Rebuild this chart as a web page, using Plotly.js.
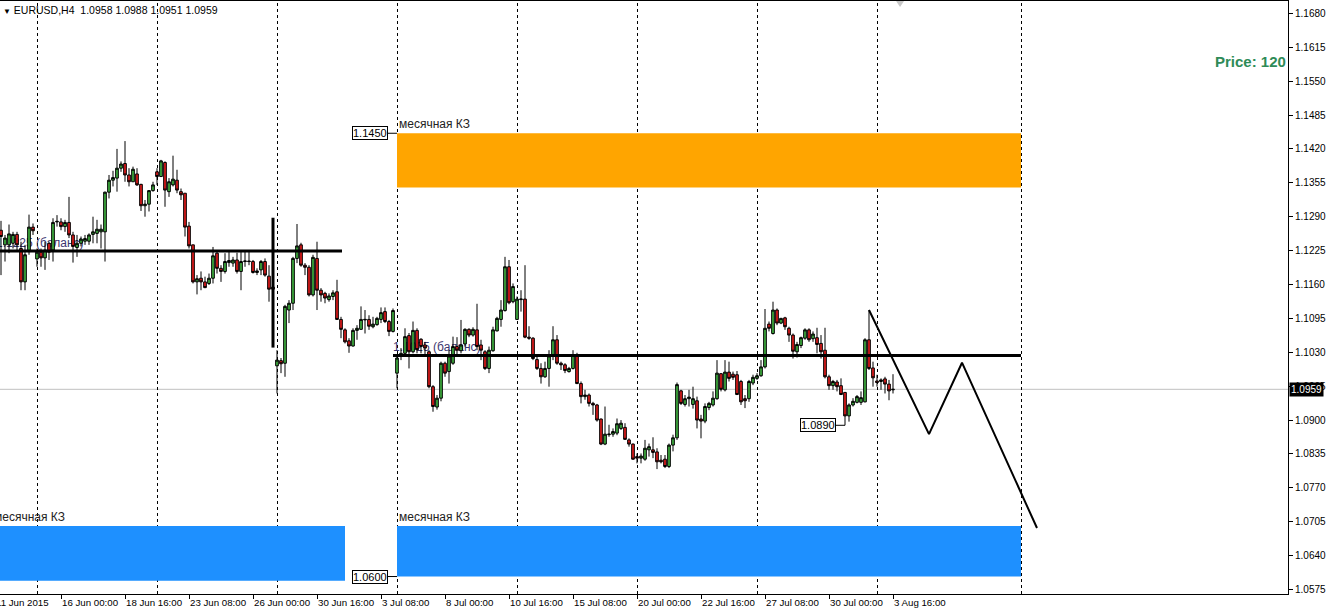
<!DOCTYPE html>
<html><head><meta charset="utf-8">
<script src="https://cdn.plot.ly/plotly-3.0.1.min.js"></script>
<style>html,body{margin:0;padding:0;background:#fff;}#chart{width:1330px;height:613px;}</style>
</head><body><div id="chart"></div>
<script>
// ---- data: EURUSD H4 candles (bar index 0..223) ----
const OPEN = [
1.1264,1.1236,1.1236,1.1239,1.1256,1.1229,1.1165,1.1223,1.1270,1.1209,
1.1222,1.1211,1.1239,1.1226,1.1280,1.1280,1.1271,1.1279,1.1255,1.1231,
1.1239,1.1243,1.1243,1.1256,1.1258,1.1261,1.1261,1.1337,1.1360,1.1364,
1.1383,1.1392,1.1370,1.1357,1.1372,1.1352,1.1311,1.1314,1.1340,1.1376,
1.1367,1.1394,1.1338,1.1351,1.1360,1.1338,1.1335,1.1272,1.1236,1.1165,
1.1172,1.1165,1.1162,1.1172,1.1220,1.1191,1.1185,1.1202,1.1201,1.1207,
1.1185,1.1204,1.1205,1.1204,1.1183,1.1188,1.1204,1.1176,1.1155,1.1004,
1.1014,1.1009,1.1111,1.1124,1.1210,1.1236,1.1197,1.1193,1.1140,1.1210,
1.1149,1.1143,1.1131,1.1137,1.1146,1.1093,1.1073,1.1052,1.1042,1.1072,
1.1074,1.1092,1.1093,1.1079,1.1083,1.1093,1.1108,1.1089,1.1070,1.0990,
1.1022,1.1028,1.1062,1.1031,1.1072,1.1055,1.1044,1.1031,1.0964,1.0925,
1.0942,1.1009,1.0993,1.1009,1.1041,1.1033,1.1046,1.1074,1.1063,1.1073,
1.1044,1.1031,1.0999,1.1033,1.1071,1.1093,1.1110,1.1194,1.1127,1.1093,
1.1131,1.1132,1.1059,1.1057,1.1016,1.0999,1.0983,1.0999,1.1022,1.1054,
1.1009,1.1006,1.0993,1.0999,1.1025,1.0970,1.0945,1.0948,1.0932,1.0929,
1.0902,1.0854,1.0872,1.0873,1.0875,1.0884,1.0886,1.0862,1.0854,1.0830,
1.0827,1.0825,1.0843,1.0843,1.0839,1.0823,1.0825,1.0811,1.0852,1.0866,
1.0956,1.0930,1.0941,1.0930,1.0937,1.0902,1.0898,1.0924,1.0929,1.0941,
1.0989,1.0958,1.0992,1.0988,1.0987,1.0974,1.0941,1.0941,1.0971,1.0980,
1.0985,1.1002,1.1084,1.1066,1.1111,1.1086,1.1096,1.1076,1.1063,1.1031,
1.1043,1.1057,1.1073,1.1056,1.1058,1.1047,1.1034,1.0983,1.0966,1.0973,
1.0966,1.0953,1.0908,1.0929,1.0934,1.0934,1.0935,1.1054,1.1000,1.0975,
1.0974,1.0979,1.0969,1.0958];
const HIGH = [
1.1282,1.1255,1.1275,1.1261,1.1261,1.1242,1.1236,1.1294,1.1277,1.1229,
1.1229,1.1242,1.1242,1.1287,1.1293,1.1287,1.1284,1.1328,1.1261,1.1255,
1.1252,1.1255,1.1258,1.1290,1.1284,1.1275,1.1338,1.1370,1.1378,1.1420,
1.1396,1.1435,1.1383,1.1386,1.1383,1.1353,1.1322,1.1341,1.1357,1.1383,
1.1399,1.1396,1.1364,1.1407,1.1380,1.1344,1.1335,1.1280,1.1236,1.1178,
1.1185,1.1175,1.1181,1.1232,1.1226,1.1197,1.1220,1.1223,1.1213,1.1221,
1.1223,1.1223,1.1223,1.1207,1.1191,1.1207,1.1210,1.1197,1.1170,1.1034,
1.1019,1.1121,1.1130,1.1213,1.1276,1.1240,1.1201,1.1197,1.1217,1.1242,
1.1153,1.1146,1.1143,1.1149,1.1169,1.1098,1.1076,1.1057,1.1076,1.1082,
1.1118,1.1111,1.1101,1.1098,1.1098,1.1116,1.1116,1.1092,1.1114,1.1022,
1.1038,1.1076,1.1067,1.1089,1.1076,1.1057,1.1050,1.1034,1.0967,1.0948,
1.1012,1.1012,1.1034,1.1060,1.1059,1.1092,1.1076,1.1076,1.1078,1.1123,
1.1054,1.1034,1.1041,1.1079,1.1098,1.1130,1.1213,1.1207,1.1162,1.1137,
1.1149,1.1197,1.1080,1.1059,1.1022,1.1009,1.1012,1.1034,1.1080,1.1063,
1.1012,1.1009,1.1002,1.1034,1.1029,1.0974,1.0958,1.0951,1.0935,1.0931,
1.0903,1.0926,1.0891,1.0884,1.0903,1.0900,1.0894,1.0865,1.0855,1.0836,
1.0836,1.0862,1.0855,1.0867,1.0846,1.0833,1.0833,1.0855,1.0872,1.0972,
1.0958,1.0948,1.0958,1.0964,1.0945,1.0910,1.0932,1.0935,1.0955,1.1015,
1.0990,1.1015,1.1012,1.0993,1.0994,1.0977,1.0948,1.0977,1.0987,1.0990,
1.1015,1.1113,1.1089,1.1127,1.1114,1.1096,1.1098,1.1079,1.1066,1.1050,
1.1060,1.1076,1.1076,1.1070,1.1077,1.1063,1.1077,1.0987,1.0977,1.0977,
1.0980,1.0954,1.0932,1.0942,1.0948,1.0955,1.1057,1.1111,1.1012,1.0987,
1.0980,1.0983,1.0977,1.0988];
const LOW = [
1.1178,1.1204,1.1220,1.1229,1.1226,1.1149,1.1149,1.1217,1.1255,1.1194,
1.1194,1.1188,1.1207,1.1204,1.1271,1.1264,1.1261,1.1249,1.1202,1.1213,
1.1233,1.1236,1.1236,1.1239,1.1239,1.1229,1.1204,1.1325,1.1348,1.1338,
1.1376,1.1357,1.1348,1.1357,1.1349,1.1301,1.1290,1.1300,1.1338,1.1351,
1.1367,1.1309,1.1328,1.1348,1.1335,1.1322,1.1252,1.1229,1.1162,1.1141,
1.1149,1.1153,1.1159,1.1162,1.1181,1.1165,1.1181,1.1194,1.1194,1.1181,
1.1149,1.1194,1.1197,1.1181,1.1178,1.1178,1.1175,1.1127,1.1140,1.0951,
1.0990,1.0983,1.1086,1.1111,1.1201,1.1194,1.1178,1.1137,1.1137,1.1111,
1.1127,1.1124,1.1127,1.1130,1.1092,1.1057,1.1047,1.1029,1.1041,1.1054,
1.1073,1.1066,1.1073,1.1076,1.1081,1.1086,1.1086,1.1061,1.1068,1.0961,
1.1015,1.1022,1.0999,1.1028,1.1028,1.1028,1.1025,1.0961,1.0916,1.0920,
1.0936,1.0983,1.0970,1.1006,1.1022,1.1028,1.1041,1.1059,1.1060,1.1034,
1.1015,1.0996,1.0990,1.1031,1.1070,1.1079,1.1108,1.1122,1.1124,1.1092,
1.1108,1.1057,1.1054,1.1015,1.0996,1.0970,1.0981,1.0964,1.1015,1.1006,
1.0996,1.0990,1.0991,1.0997,1.0969,1.0932,1.0939,1.0926,1.0910,1.0897,
1.0852,1.0852,1.0868,1.0868,1.0871,1.0881,1.0862,1.0849,1.0824,1.0817,
1.0817,1.0822,1.0830,1.0827,1.0806,1.0817,1.0808,1.0808,1.0840,1.0862,
1.0929,1.0926,1.0926,1.0922,1.0884,1.0865,1.0894,1.0919,1.0926,1.0939,
1.0955,1.0955,1.0974,1.0977,1.0948,1.0929,1.0923,1.0935,1.0967,1.0977,
1.0983,1.0999,1.1070,1.1064,1.1082,1.1084,1.1073,1.1050,1.1018,1.1020,
1.1038,1.1054,1.1050,1.1050,1.1028,1.1018,1.0980,1.0958,1.0958,1.0955,
1.0948,1.0890,1.0897,1.0926,1.0932,1.0929,1.0934,1.0996,1.0964,1.0964,
1.0958,1.0951,1.0938,1.0951];
const CLOSE = [
1.1252,1.1249,1.1257,1.1256,1.1236,1.1165,1.1217,1.1270,1.1263,1.1222,
1.1211,1.1226,1.1222,1.1279,1.1281,1.1271,1.1279,1.1255,1.1233,1.1239,
1.1247,1.1248,1.1255,1.1261,1.1266,1.1266,1.1337,1.1360,1.1365,1.1383,
1.1391,1.1370,1.1357,1.1381,1.1351,1.1311,1.1314,1.1340,1.1351,1.1367,
1.1397,1.1341,1.1357,1.1362,1.1341,1.1332,1.1270,1.1234,1.1165,1.1171,
1.1165,1.1154,1.1172,1.1215,1.1191,1.1185,1.1204,1.1206,1.1207,1.1185,
1.1204,1.1205,1.1204,1.1183,1.1186,1.1204,1.1178,1.1151,1.1151,1.1015,
1.1008,1.1118,1.1124,1.1210,1.1234,1.1197,1.1193,1.1140,1.1212,1.1149,
1.1140,1.1134,1.1138,1.1144,1.1093,1.1074,1.1050,1.1042,1.1072,1.1076,
1.1093,1.1093,1.1080,1.1084,1.1095,1.1106,1.1089,1.1070,1.1110,1.1019,
1.1028,1.1060,1.1031,1.1072,1.1035,1.1041,1.1038,1.0964,1.0926,1.0942,
1.1009,1.0990,1.1023,1.1041,1.1034,1.1044,1.1074,1.1063,1.1074,1.1041,
1.1034,1.0999,1.1034,1.1073,1.1095,1.1111,1.1194,1.1125,1.1156,1.1132,
1.1132,1.1059,1.1057,1.1018,1.0999,1.0983,1.0999,1.1023,1.1054,1.1009,
1.1006,1.0995,1.0999,1.1025,1.0970,1.0945,1.0948,1.0932,1.0929,1.0900,
1.0854,1.0873,1.0873,1.0878,1.0893,1.0894,1.0863,1.0854,1.0825,1.0827,
1.0831,1.0846,1.0849,1.0838,1.0820,1.0820,1.0811,1.0852,1.0866,1.0968,
1.0932,1.0941,1.0944,1.0941,1.0900,1.0898,1.0926,1.0932,1.0942,1.0990,
1.0959,1.0992,1.0980,1.0982,1.0949,1.0935,1.0937,1.0974,1.0982,1.0985,
1.1002,1.1076,1.1076,1.1111,1.1086,1.1095,1.1079,1.1063,1.1032,1.1045,
1.1058,1.1073,1.1054,1.1065,1.1045,1.1031,1.0983,1.0966,1.0974,1.0964,
1.0949,1.0908,1.0929,1.0936,1.0945,1.0943,1.1054,1.0999,1.0981,1.0972,
1.0977,1.0969,1.0956,1.0959];

// time axis labels (bar index -> label)
const TICK_BARS   = [-1, 15, 31, 47, 63, 79, 95, 111, 127, 143, 159, 175, 191, 207, 223];
const TICK_LABELS = ['11 Jun 2015','16 Jun 00:00','18 Jun 16:00','23 Jun 08:00','26 Jun 00:00',
  '30 Jun 16:00','3 Jul 08:00','8 Jul 00:00','10 Jul 16:00','15 Jul 08:00','20 Jul 00:00',
  '22 Jul 16:00','27 Jul 08:00','30 Jul 00:00','3 Aug 16:00'];
// weekly separators (Monday 00:00 bars) and vertical line object
const WEEK_BARS = [9, 39, 69, 99, 129, 159, 189, 219];
const VLINE_BAR = 255;

// zones "месячная КЗ"
const ZONE_X0   = [99, -3, 99];
const ZONE_X1   = [255, 86, 255];
const ZONE_LOW  = [1.1346, 1.0592, 1.0600];
const ZONE_HIGH = [1.1450, 1.0697, 1.0697];
const ZONE_NAME = ['месячная КЗ', 'месячная КЗ', 'месячная КЗ'];

// balance levels
const BAL_X0 = [-3, 98];
const BAL_X1 = [85.25, 255];
const BAL_Y  = [1.1224, 1.1024];
const BAL_TEXT = ['1.1225 (баланс)', '1.1025 (баланс)'];

// gap marker (vertical segment)
const GAP_BAR = 68, GAP_Y0 = 1.1039, GAP_Y1 = 1.1288;

// forecast zigzag
const ZZ_X = [217, 232, 240.25, 259];
const ZZ_Y = [1.1111, 1.0873, 1.1010, 1.0693];

// price labels
const PL_VALUE = [1.1450, 1.0600, 1.0890];
const PL_BOXRIGHT = [96.75, 96.75, 208.75];
const PL_TARGET = [99, 99, 211];

const FONT = 'Liberation Sans, Arial, sans-serif';
const N = CLOSE.length;
const X = CLOSE.map((_, i) => i);
const last = N - 1;
const HALF = 0.125; // half-pixel in bar units, for crisp 1px lines

const traces = [
  {
    type: 'candlestick', x: X, open: OPEN, high: HIGH, low: LOW, close: CLOSE,
    increasing: {line: {color: '#000', width: 1}, fillcolor: '#3fb03f'},
    decreasing: {line: {color: '#000', width: 1}, fillcolor: '#e11b1b'},
    whiskerwidth: 0, hoverinfo: 'skip', showlegend: false
  },
  {
    type: 'scatter', mode: 'lines', x: ZZ_X, y: ZZ_Y,
    line: {color: '#000', width: 2}, hoverinfo: 'skip', showlegend: false
  }
];

const shapes = [];
// current price line
shapes.push({type: 'line', xref: 'paper', x0: 0, x1: 1, yref: 'y', y0: CLOSE[last], y1: CLOSE[last],
  line: {color: '#c0c0c0', width: 1}, layer: 'below'});
// weekly separators + vertical line object
WEEK_BARS.concat([VLINE_BAR]).forEach(b => shapes.push({
  type: 'line', xref: 'x', x0: b + HALF, x1: b + HALF, yref: 'paper', y0: 0, y1: 1,
  line: {color: '#000', width: 1, dash: '3px,3px'}, layer: 'below'}));
// zones
const ZONE_COL = ['#FFA500', '#1E90FF', '#1E90FF'];
ZONE_X0.forEach((x0, k) => shapes.push({
  type: 'rect', xref: 'x', yref: 'y', x0: x0, x1: ZONE_X1[k], y0: ZONE_LOW[k], y1: ZONE_HIGH[k],
  fillcolor: ZONE_COL[k], line: {width: 0}, layer: 'below'}));
// balance text (behind candles)
BAL_Y.forEach((y, k) => shapes.push({
  type: 'line', xref: 'x', yref: 'y', x0: k === 0 ? -1.25 : BAL_X0[k], x1: BAL_X1[k], y0: y, y1: y,
  line: {color: 'rgba(0,0,0,0)', width: 0}, layer: 'below',
  label: {text: BAL_TEXT[k], textposition: 'start', xanchor: 'left', yanchor: 'bottom', padding: 2,
    font: {family: FONT, size: 12, color: '#3b3670'}}}));
// balance lines
BAL_Y.forEach((y, k) => shapes.push({
  type: 'line', xref: 'x', yref: 'y', x0: BAL_X0[k], x1: BAL_X1[k], y0: y, y1: y,
  line: {color: '#000', width: 3}}));
// gap vertical segment
shapes.push({type: 'line', xref: 'x', yref: 'y', x0: GAP_BAR, x1: GAP_BAR, y0: GAP_Y0, y1: GAP_Y1,
  line: {color: '#000', width: 3}});
// price label connectors
PL_VALUE.forEach((v, k) => shapes.push({
  type: 'line', xref: 'x', yref: 'y', x0: PL_BOXRIGHT[k], x1: PL_TARGET[k], y0: v, y1: v,
  line: {color: '#000', width: 1}}));
// chart shift marker
shapes.push({type: 'path', xref: 'paper', yref: 'paper',
  path: 'M 0.6957 1 L 0.7019 1 L 0.6988 0.9899 Z', fillcolor: '#c8c8c8', line: {width: 0}});

const annotations = [];
// header
annotations.push({xref: 'paper', yref: 'paper', x: 0, y: 1, xanchor: 'left', yanchor: 'top',
  xshift: 1, yshift: -1, showarrow: false,
  text: '<span style="font-size:8px">▼</span> EURUSD,H4\u00a0\u00a0' +
    [OPEN[last], HIGH[last], LOW[last], CLOSE[last]].map(v => v.toFixed(4)).join(' '),
  font: {family: FONT, size: 10.5, color: '#000'}});
// x labels (first one sits just left of the visible range)
TICK_BARS.forEach((b, k) => {
  const a = {yref: 'paper', y: 0, xanchor: 'left', yanchor: 'top', yshift: -2,
    showarrow: false, text: TICK_LABELS[k], borderpad: 0,
    font: {family: FONT, size: 9.7, color: '#000'}};
  if (b < 0) { a.xref = 'paper'; a.x = 0; a.xshift = -5; }
  else { a.xref = 'x'; a.x = b; a.xshift = 0; }
  annotations.push(a);
});
// zone names
ZONE_X0.forEach((x0, k) => annotations.push({
  xref: k === 1 ? 'paper' : 'x', yref: 'y', x: k === 1 ? 0 : x0, xshift: k === 1 ? -8 : 0,
  y: ZONE_HIGH[k], xanchor: 'left', yanchor: 'bottom',
  showarrow: false, text: ZONE_NAME[k], borderpad: 1,
  font: {family: FONT, size: 12, color: '#222'}}));
// price label boxes
PL_VALUE.forEach((v, k) => annotations.push({
  xref: 'x', yref: 'y', x: PL_BOXRIGHT[k], y: v, xanchor: 'right', yanchor: 'middle',
  showarrow: false, text: v.toFixed(4), bgcolor: '#fff', bordercolor: '#000', borderwidth: 1,
  borderpad: 0, font: {family: FONT, size: 11, color: '#000'}}));
// current price tag on axis
annotations.push({xref: 'paper', yref: 'y', x: 1, y: CLOSE[last], xanchor: 'left', yanchor: 'middle',
  xshift: 1, showarrow: false, text: CLOSE[last].toFixed(4), bgcolor: '#000', borderpad: 1,
  font: {family: FONT, size: 10, color: '#fff'}});
// Price label
annotations.push({xref: 'paper', yref: 'paper', x: 1, y: 0.8988, xanchor: 'right', yanchor: 'middle',
  xshift: 0, showarrow: false, text: '<b>Price: 120</b>',
  font: {family: FONT, size: 15, color: '#2E8B57'}});

const layout = {
  width: 1330, height: 613,
  margin: {l: 0, r: 42, t: 1, b: 19, pad: 0},
  paper_bgcolor: '#fff', plot_bgcolor: '#fff',
  showlegend: false, hovermode: false, boxgap: 0.05,
  xaxis: {
    type: 'linear', range: [-0.25, 321.75], rangeslider: {visible: false},
    tickmode: 'array', tickvals: TICK_BARS.filter(b => b >= 0), showticklabels: false,
    ticks: 'outside', ticklen: 4, tickcolor: '#000', tickwidth: 1,
    showline: true, linecolor: '#000', linewidth: 1, mirror: true,
    showgrid: false, zeroline: false, fixedrange: true
  },
  yaxis: {
    range: [1.05665, 1.17036], side: 'right',
    tickmode: 'linear', tick0: 1.0575, dtick: 0.0065, tickformat: '.4f',
    ticks: 'outside', ticklen: 4, tickcolor: '#000', tickwidth: 1,
    tickfont: {family: FONT, size: 10, color: '#000'},
    showline: true, linecolor: '#000', linewidth: 1,
    showgrid: false, zeroline: false, fixedrange: true
  },
  shapes: shapes, annotations: annotations
};

Plotly.newPlot('chart', traces, layout, {staticPlot: true, displayModeBar: false});
</script>
</body></html>
